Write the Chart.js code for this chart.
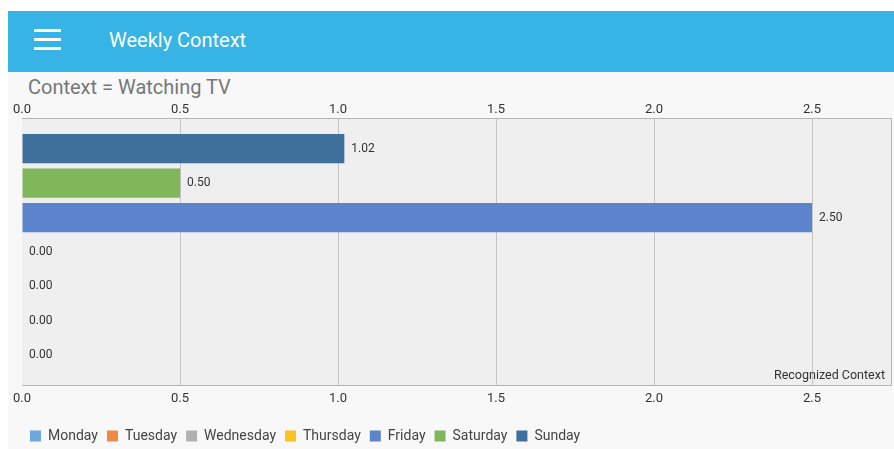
<!DOCTYPE html>
<html>
<head>
<meta charset="utf-8">
<script src="https://cdn.jsdelivr.net/npm/chart.js@4"></script>
<style>
  html, body { margin: 0; padding: 0; background: #fff; width: 894px; height: 449px; overflow: hidden; font-family: Roboto, sans-serif; }
  #app { position: absolute; left: 8px; top: 11px; width: 886px; height: 438px; background: #f8f8f8; }
  #bar { position: absolute; left: 0; top: 0; width: 886px; height: 61px; background: #36b4e5; }
  .burger { position: absolute; left: 26px; width: 27px; height: 3px; background: #fff; }
  #bar .name { position: absolute; left: 101px; top: 17px; font-size: 20px; color: #fff; }
  #subtitle { position: absolute; left: 20px; top: 64px; font-size: 20px; color: #777; }
  #wrap { position: absolute; left: -1px; top: 88px; width: 887px; height: 354px; }
</style>
</head>
<body>
<div id="app">
  <div id="bar">
    <div class="burger" style="top:18px"></div>
    <div class="burger" style="top:27px"></div>
    <div class="burger" style="top:36px"></div>
    <div class="name">Weekly Context</div>
  </div>
  <div id="subtitle">Context = Watching TV</div>
  <div id="wrap"><canvas id="weekChart"></canvas></div>
</div>
<script>
const days = ["Monday", "Tuesday", "Wednesday", "Thursday", "Friday", "Saturday", "Sunday"];
const hours = [0, 0, 0, 0, 2.5, 0.5, 1.02];
const dayColors = ["#6ea7dd", "#ee8a45", "#b0b0b0", "#fcc21f", "#5c84cc", "#80b75b", "#3f709c"];
const xTicks = [0, 0.5, 1, 1.5, 2, 2.5];
const description = "Recognized Context";

// plot background + right edge + value labels, like the android chart
const plotFrame = {
  id: "plotFrame",
  beforeDraw(chart) {
    const a = chart.chartArea;
    const ctx = chart.ctx;
    ctx.save();
    ctx.fillStyle = "#efefef";
    ctx.fillRect(a.left, a.top, a.right - a.left, a.bottom - a.top);
    ctx.restore();
  },
  afterDatasetsDraw(chart) {
    const a = chart.chartArea;
    const ctx = chart.ctx;
    ctx.save();
    ctx.strokeStyle = "#b4b4b4";
    ctx.lineWidth = 1;
    ctx.beginPath();
    ctx.moveTo(a.right + 0.5, a.top);
    ctx.lineTo(a.right + 0.5, a.bottom);
    ctx.stroke();

    ctx.fillStyle = "#333";
    ctx.font = "12px Roboto";
    ctx.textAlign = "left";
    ctx.textBaseline = "middle";
    chart.data.datasets.forEach((ds, i) => {
      chart.getDatasetMeta(i).data.forEach((bar, j) => {
        ctx.fillText(ds.data[j].x.toFixed(2), bar.x + 7, bar.y);
      });
    });

    ctx.font = "12.5px Roboto";
    ctx.textAlign = "right";
    ctx.textBaseline = "bottom";
    ctx.fillText(description, a.right - 6, a.bottom - 3);
    ctx.restore();
  },
};

const tickFont = { family: "Roboto", size: 13 };
const fmtTick = (v) => Number(v).toFixed(1);
const setTicks = (s) => {
  s.ticks = xTicks.map((v) => ({ value: v }));
};

new Chart(document.getElementById("weekChart"), {
  type: "bar",
  data: {
    datasets: days.map((d, i) => ({
      label: d,
      data: [{ x: hours[i], y: i }],
      backgroundColor: dayColors[i],
      borderWidth: 0,
      grouped: false,
      categoryPercentage: 1,
      barPercentage: 0.85,
    })),
  },
  options: {
    indexAxis: "y",
    responsive: true,
    maintainAspectRatio: false,
    animation: false,
    layout: { padding: { left: 14, right: 3, top: 2, bottom: 0 } },
    scales: {
      x: {
        type: "linear",
        position: "bottom",
        min: 0,
        max: 2.75,
        afterBuildTicks: setTicks,
        afterFit: (s) => {
          s.height += 7;
        },
        ticks: { color: "#333", font: tickFont, padding: 6, callback: fmtTick },
        border: { display: true, color: "#b4b4b4" },
        grid: {
          drawTicks: false,
          color: (c) => (c.tick && c.tick.value === 0 ? "rgba(0,0,0,0)" : "#c4c4c4"),
        },
      },
      x2: {
        type: "linear",
        position: "top",
        min: 0,
        max: 2.75,
        afterBuildTicks: setTicks,
        ticks: { color: "#333", font: tickFont, padding: 1, callback: fmtTick },
        border: { display: true, color: "#b4b4b4" },
        grid: { display: false, drawTicks: false },
      },
      y: {
        type: "linear",
        min: -0.87,
        max: 6.87,
        offset: false,
        display: false,
        afterBuildTicks: (s) => {
          s.ticks = days.map((d, i) => ({ value: i }));
        },
      },
    },
    plugins: {
      tooltip: { enabled: false },
      legend: {
        position: "bottom",
        align: "start",
        labels: {
          boxWidth: 11,
          boxHeight: 11,
          padding: 9,
          color: "#444",
          font: { family: "Roboto", size: 14 },
        },
      },
    },
  },
  plugins: [plotFrame],
});
</script>
</body>
</html>
